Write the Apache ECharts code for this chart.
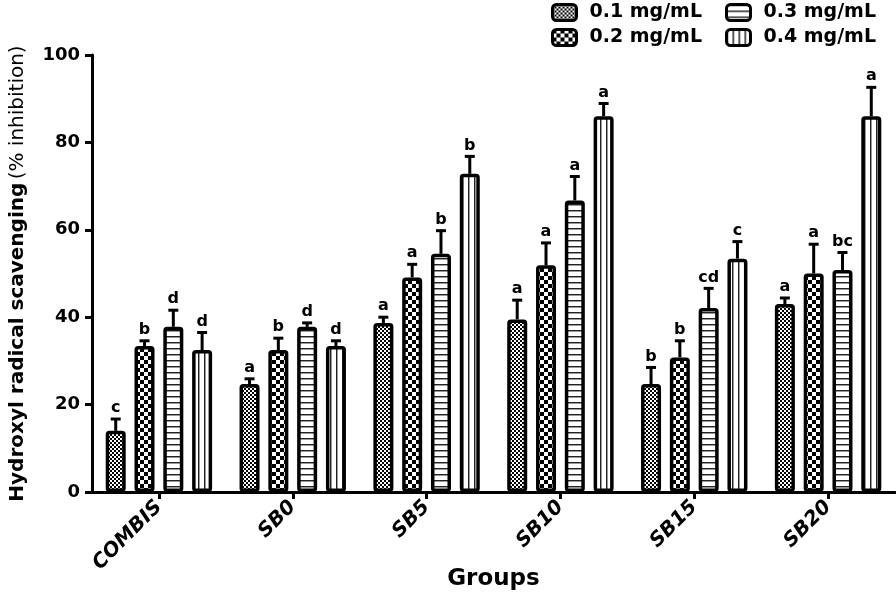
<!DOCTYPE html>
<html><head><meta charset="utf-8">
<script src="https://cdn.jsdelivr.net/npm/echarts@6/dist/echarts.min.js"></script>
<style>html,body{margin:0;padding:0;background:#fff}#c{width:896px;height:600px}</style>
</head><body><div id="c"></div>
<script>
const categories = ['COMBIS','SB0','SB5','SB10','SB15','SB20'];
const seriesNames = ['0.1 mg/mL','0.2 mg/mL','0.3 mg/mL','0.4 mg/mL'];
const v01 = [14.0, 24.7, 38.7, 39.5, 24.7, 43.0];
const e01 = [2.7, 1.2, 1.3, 4.4, 3.8, 1.4];
const v02 = [33.4, 32.5, 49.1, 51.9, 30.8, 50.0];
const e02 = [1.2, 2.7, 3.0, 5.1, 3.8, 6.7];
const v03 = [37.8, 37.8, 54.5, 66.7, 42.1, 50.8];
const e03 = [3.8, 0.9, 5.3, 5.5, 4.5, 4.0];
const v04 = [32.5, 33.4, 72.8, 86.0, 53.4, 86.0];
const e04 = [4.0, 1.2, 4.0, 2.9, 3.9, 6.6];
const l01 = ['c','a','a','a','b','a'];
const l02 = ['b','b','a','a','b','a'];
const l03 = ['d','d','b','a','cd','bc'];
const l04 = ['d','d','b','a','c','a'];
const yTicks = [0, 20, 40, 60, 80, 100];

const values = [v01, v02, v03, v04];
const errors = [e01, e02, e03, e04];
const letters = [l01, l02, l03, l04];

function makePattern(kind){
  const c = document.createElement('canvas');
  const ctx = c.getContext('2d');
  if(kind===0){ c.width=4; c.height=4; ctx.fillStyle='#fff'; ctx.fillRect(0,0,4,4); ctx.fillStyle='#000'; ctx.fillRect(0,0,2,2); ctx.fillRect(2,2,2,2); }
  else if(kind===1){ c.width=8; c.height=8; ctx.fillStyle='#fff'; ctx.fillRect(0,0,8,8); ctx.fillStyle='#000'; ctx.fillRect(0,0,4,4); ctx.fillRect(4,4,4,4); }
  else if(kind===2){ c.width=6; c.height=6; ctx.fillStyle='#fff'; ctx.fillRect(0,0,6,6); ctx.fillStyle='#222'; ctx.fillRect(0,0,6,1); ctx.fillStyle='#999'; ctx.fillRect(0,1,6,1); }
  else { c.width=6; c.height=6; ctx.fillStyle='#fff'; ctx.fillRect(0,0,6,6); ctx.fillStyle='#222'; ctx.fillRect(0,0,1,6); ctx.fillStyle='#999'; ctx.fillRect(1,0,1,6); }
  return {image: c, repeat: 'repeat'};
}

const FONT = '"DejaVu Sans", sans-serif';
const barW = 20, gapPct = 0.44, spacing = barW*(1+gapPct);

const series = [];
for(let i=0;i<4;i++){
  series.push({
    name: seriesNames[i], type: 'bar', data: values[i], barWidth: barW, barGap: (gapPct*100)+'%',
    itemStyle: {color: makePattern(i), borderColor:'#000', borderWidth:3.5, borderRadius:2},
    z: 2
  });
}
for(let i=0;i<4;i++){
  series.push({
    name: 'err'+i, type: 'custom', z: 3,
    data: categories.map((c,k)=>[k, values[i][k], errors[i][k]]),
    renderItem: function(params, api){
      const idx = api.value(0), v = api.value(1), e = api.value(2);
      const b = api.coord([idx, v]); const t = api.coord([idx, v+e]);
      const x = b[0] + (i-1.5)*spacing;
      return {type:'group', children:[
        {type:'line', shape:{x1:x,y1:b[1],x2:x,y2:t[1]}, style:{stroke:'#000',lineWidth:3}},
        {type:'line', shape:{x1:x-5,y1:t[1],x2:x+5,y2:t[1]}, style:{stroke:'#000',lineWidth:3}},
        {type:'text', x:x, y:t[1]-3, style:{text:letters[i][params.dataIndex], fill:'#000', font:'bold 16px '+FONT, align:'center', verticalAlign:'bottom'}}
      ]};
    }
  });
}

const legendCommon = {orient:'vertical', top:-2, itemWidth:24, itemHeight:16, itemGap:6, icon:'roundRect',
  itemStyle:{borderColor:'#000', borderWidth:3},
  textStyle:{fontFamily:FONT, fontWeight:'bold', fontSize:19, color:'#000', padding:[0,0,0,8]}};

const chart = echarts.init(document.getElementById('c'));
chart.setOption({
  animation:false,
  backgroundColor:'#fff',
  legend:[
    Object.assign({left:546, data:[seriesNames[0], seriesNames[1]]}, legendCommon),
    Object.assign({left:720, data:[seriesNames[2], seriesNames[3]]}, legendCommon)
  ],
  grid:{left:92, right:1, top:55, bottom:108, containLabel:false, outerBoundsMode:'none'},
  xAxis:{type:'category', data:categories,
    axisLine:{lineStyle:{color:'#000', width:3}},
    axisTick:{show:true, alignWithLabel:true, length:7, lineStyle:{width:3,color:'#000'}},
    axisLabel:{rotate:45, margin:12, fontFamily:FONT, fontWeight:'bold', fontStyle:'italic', fontSize:20, color:'#000', interval:0},
    name:'Groups', nameLocation:'middle', nameGap:76, nameMoveOverlap:false,
    nameTextStyle:{fontFamily:FONT, fontWeight:'bold', fontSize:23, color:'#000'}
  },
  yAxis:{type:'value', min:yTicks[0], max:yTicks[yTicks.length-1], interval:yTicks[1]-yTicks[0],
    axisLine:{show:true, lineStyle:{color:'#000', width:3}},
    axisTick:{show:true, length:7, lineStyle:{width:3,color:'#000'}},
    splitLine:{show:false},
    axisLabel:{margin:12, fontFamily:FONT, fontWeight:'bold', fontSize:18, color:'#000'},
    name:'{b|Hydroxyl radical scavenging} {n|(% inhibition)}', nameLocation:'middle', nameGap:64, nameMoveOverlap:false,
    nameTextStyle:{rich:{b:{fontFamily:FONT, fontWeight:'bold', fontSize:20, color:'#000'}, n:{fontFamily:FONT, fontWeight:'normal', fontSize:20, color:'#000'}}}
  },
  series: series
});
</script></body></html>
